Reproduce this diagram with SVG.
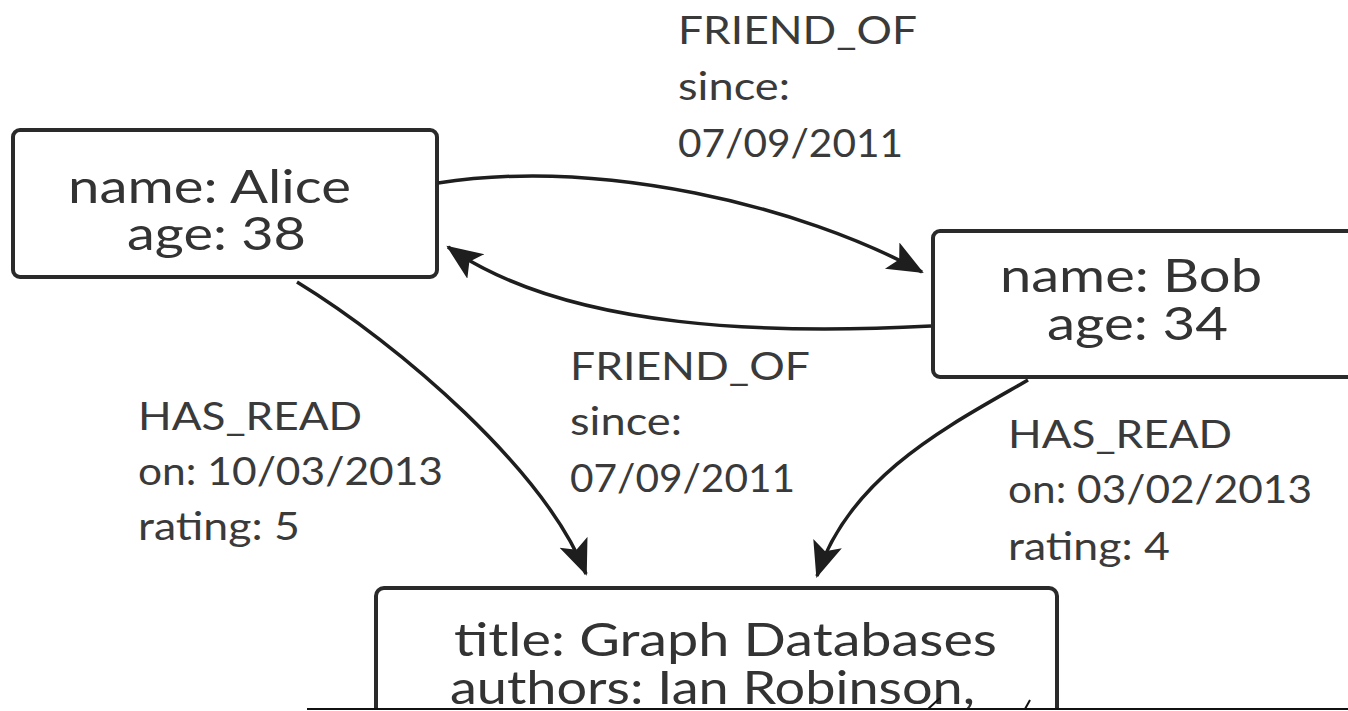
<svg xmlns="http://www.w3.org/2000/svg" width="1348" height="711" viewBox="0 0 1348 711">
<defs>
<style>
.box{fill:#fff;stroke:#2a2a2a;stroke-width:4}
.nt{font-family:Lato,"Open Sans",sans-serif;font-size:46px;fill:#333}
.lb{font-family:Lato,"Open Sans",sans-serif;font-size:39px;fill:#3a3a3a}
.edge{fill:none;stroke:#1e1e1e;stroke-width:3.5}
</style>
<marker id="arr" markerUnits="userSpaceOnUse" markerWidth="40" markerHeight="32" refX="34" refY="15" orient="auto">
<path d="M0,0 L36,15 L0,30 L8,15 z" fill="#1e1e1e"/>
</marker>
<clipPath id="bookclip"><rect x="0" y="0" width="1348" height="708"/></clipPath>
</defs>
<rect width="1348" height="711" fill="#fff"/>
<g id="alice">
<rect class="box" x="13" y="130" width="424" height="147" rx="7"/>
<text class="nt" x="68" y="203" textLength="283" lengthAdjust="spacingAndGlyphs">name: Alice</text>
<text class="nt" x="127" y="250" textLength="179" lengthAdjust="spacingAndGlyphs">age: 38</text>
</g>
<g id="bob">
<rect class="box" x="933" y="231" width="430" height="146" rx="7"/>
<text class="nt" x="1000" y="292" textLength="262" lengthAdjust="spacingAndGlyphs">name: Bob</text>
<text class="nt" x="1047" y="340" textLength="181" lengthAdjust="spacingAndGlyphs">age: 34</text>
</g>
<g id="book" clip-path="url(#bookclip)">
<rect class="box" x="376" y="588" width="681" height="160" rx="8"/>
<text class="nt" x="454" y="656" textLength="543" lengthAdjust="spacingAndGlyphs">title: Graph Databases</text>
<text class="nt" x="450" y="704" textLength="525" lengthAdjust="spacingAndGlyphs">authors: Ian Robinson,</text>
</g>
<g id="connectors">
<path class="edge" marker-end="url(#arr)" d="M438,183 C600,158 800,205 922,272"/>
<path class="edge" marker-end="url(#arr)" d="M931,326 C780,334 570,332 448,247"/>
<path class="edge" marker-end="url(#arr)" d="M297,282 C400,345 545,470 586,574"/>
<path class="edge" marker-end="url(#arr)" d="M1028,380 C950,425 850,475 817,576"/>
</g>
<g id="labels">
<text class="lb" x="678" y="44" textLength="239" lengthAdjust="spacingAndGlyphs">FRIEND_OF</text>
<text class="lb" x="678" y="100" textLength="112" lengthAdjust="spacingAndGlyphs">since:</text>
<text class="lb" x="678" y="157" textLength="225" lengthAdjust="spacingAndGlyphs">07/09/2011</text>
<text class="lb" x="570" y="380" textLength="240" lengthAdjust="spacingAndGlyphs">FRIEND_OF</text>
<text class="lb" x="570" y="435" textLength="112" lengthAdjust="spacingAndGlyphs">since:</text>
<text class="lb" x="570" y="492" textLength="225" lengthAdjust="spacingAndGlyphs">07/09/2011</text>
<text class="lb" x="138" y="430" textLength="224" lengthAdjust="spacingAndGlyphs">HAS_READ</text>
<text class="lb" x="138" y="485" textLength="305" lengthAdjust="spacingAndGlyphs">on: 10/03/2013</text>
<text class="lb" x="138" y="540" textLength="162" lengthAdjust="spacingAndGlyphs">rating: 5</text>
<text class="lb" x="1008" y="448" textLength="224" lengthAdjust="spacingAndGlyphs">HAS_READ</text>
<text class="lb" x="1008" y="503" textLength="304" lengthAdjust="spacingAndGlyphs">on: 03/02/2013</text>
<text class="lb" x="1008" y="560" textLength="162" lengthAdjust="spacingAndGlyphs">rating: 4</text>
</g>
<g id="artifacts" stroke="#111" stroke-width="2" fill="none">
<line x1="307" y1="709" x2="1348" y2="709"/>
<path d="M940,698 L928,709"/>
<path d="M1030,700 L1025,709"/>
</g>
</svg>
